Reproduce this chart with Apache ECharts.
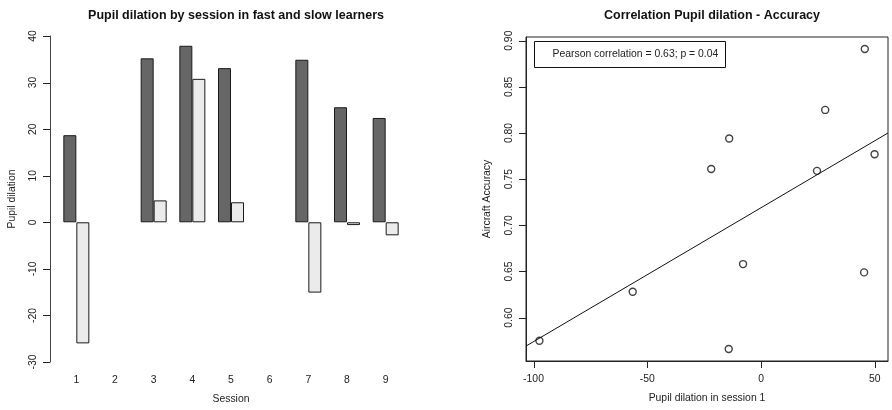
<!DOCTYPE html>
<html>
<head>
<meta charset="utf-8">
<script src="https://cdn.jsdelivr.net/npm/echarts@6/dist/echarts.min.js"></script>
<style>
html,body{margin:0;padding:0;background:#fff;}
#c{width:892px;height:410px;}
</style>
</head>
<body>
<div id="c"></div>
<script>
// ---- Data: left chart (bar) ----
const sessions = ['1', '2', '3', '4', '5', '6', '7', '8', '9'];
const fastLearners = [18.7, null, 35.2, 37.9, 33.1, null, 34.9, 24.7, 22.4];
const slowLearners = [-26.0, null, 4.7, 30.8, 4.3, null, -15.1, -0.6, -2.8];
const barYTicks = [-30, -20, -10, 0, 10, 20, 30, 40];

// ---- Data: right chart (scatter) ----
const dilationSession1 = [-97.4, -56.4, -21.9, -14.0, -14.2, -7.9, 24.6, 28.2, 45.6, 45.3, 49.9];
const aircraftAccuracy = [0.575, 0.628, 0.761, 0.794, 0.566, 0.658, 0.759, 0.825, 0.891, 0.649, 0.777];
const scatterXTicks = [-100, -50, 0, 50];
const scatterYTicks = [0.60, 0.65, 0.70, 0.75, 0.80, 0.85, 0.90];
const scatterXRange = [-103.3, 55.8];
const scatterYRange = [0.553, 0.904];
const legendText = 'Pearson correlation = 0.63; p = 0.04';
const legendAnchor = [-100, 0.90];

// least-squares fit line (as abline(lm(...)))
function fit(xs, ys) {
  const n = xs.length;
  const mx = xs.reduce((a, b) => a + b, 0) / n;
  const my = ys.reduce((a, b) => a + b, 0) / n;
  let sxy = 0, sxx = 0;
  for (let i = 0; i < n; i++) { sxy += (xs[i] - mx) * (ys[i] - my); sxx += (xs[i] - mx) ** 2; }
  const b = sxy / sxx;
  return { a: my - b * mx, b: b };
}
const f = fit(dilationSession1, aircraftAccuracy);
const fitLine = scatterXRange.map(x => [x, f.a + f.b * x]);
const scatterPoints = dilationSession1.map((x, i) => [x, aircraftAccuracy[i]]);

const FONT = 'Liberation Sans';
const TXT = '#222';
const TICK = '#222';
const base = 10.4;
const TICK_LEN = 7;
const BAR_GRID_LEFT = 57, BAR_Y_OFFSET = 7;

const chart = echarts.init(document.getElementById('c'), null, { renderer: 'canvas' });
chart.setOption({
  animation: false,
  backgroundColor: '#fff',
  textStyle: { fontFamily: FONT },
  title: [
    { text: 'Pupil dilation by session in fast and slow learners', left: 231, top: 4, textAlign: 'center',
      textStyle: { fontFamily: FONT, fontSize: 12.5, fontWeight: 'bold', color: '#111' } },
    { text: 'Correlation Pupil dilation - Accuracy', left: 707, top: 4, textAlign: 'center',
      textStyle: { fontFamily: FONT, fontSize: 12.5, fontWeight: 'bold', color: '#111' } }
  ],
  grid: [
    { left: BAR_GRID_LEFT, top: 36, width: 348, height: 326 },
    { left: 526, top: 37, right: 4, bottom: 49,
      show: true, borderColor: '#222', borderWidth: 1, backgroundColor: 'transparent' }
  ],
  xAxis: [
    { type: 'category', gridIndex: 0, data: sessions,
      axisLine: { show: false, onZero: false }, axisTick: { show: false },
      axisLabel: { margin: 13, fontSize: base, color: TXT, fontFamily: FONT },
      name: 'Session', nameLocation: 'middle', nameGap: 32,
      nameTextStyle: { fontSize: base, color: TXT, fontFamily: FONT },
      splitLine: { show: false } },
    { type: 'value', gridIndex: 1, min: scatterXRange[0], max: scatterXRange[1],
      axisLine: { show: true, onZero: false, lineStyle: { color: '#222', width: 1 } },
      axisTick: { show: false },
      axisLabel: { margin: 13, fontSize: base, color: TXT, fontFamily: FONT, customValues: scatterXTicks },
      splitLine: { show: false },
      name: 'Pupil dilation in session 1', nameLocation: 'middle', nameGap: 32,
      nameTextStyle: { fontSize: base, color: TXT, fontFamily: FONT } }
  ],
  yAxis: [
    { type: 'value', gridIndex: 0, min: barYTicks[0], max: barYTicks[barYTicks.length - 1], interval: 10,
      offset: BAR_Y_OFFSET,
      axisLine: { show: true, onZero: false, lineStyle: { color: '#444', width: 1 } },
      axisTick: { show: false },
      axisLabel: { rotate: 90, margin: 12, fontSize: base, color: TXT, fontFamily: FONT },
      splitLine: { show: false },
      name: 'Pupil dilation', nameLocation: 'middle', nameGap: 33,
      nameTextStyle: { fontSize: base, color: TXT, fontFamily: FONT } },
    { type: 'value', gridIndex: 1, min: scatterYRange[0], max: scatterYRange[1],
      axisLine: { show: true, onZero: false, lineStyle: { color: '#222', width: 1 } },
      axisTick: { show: false },
      axisLabel: { rotate: 90, margin: 12, fontSize: base, color: TXT, fontFamily: FONT,
        customValues: scatterYTicks, formatter: v => v.toFixed(2) },
      splitLine: { show: false },
      name: 'Aircraft Accuracy', nameLocation: 'middle', nameGap: 34,
      nameTextStyle: { fontSize: base, color: TXT, fontFamily: FONT } }
  ],
  series: [
    { type: 'bar', name: 'Fast learners', xAxisIndex: 0, yAxisIndex: 0, data: fastLearners,
      barWidth: 13, barGap: '0%',
      itemStyle: { color: '#666666', borderColor: '#1a1a1a', borderWidth: 1 } },
    { type: 'bar', name: 'Slow learners', xAxisIndex: 0, yAxisIndex: 0, data: slowLearners,
      barWidth: 13, barGap: '0%',
      itemStyle: { color: '#ebebeb', borderColor: '#1a1a1a', borderWidth: 1 } },
    { type: 'line', xAxisIndex: 1, yAxisIndex: 1, data: fitLine, symbol: 'none', clip: true,
      lineStyle: { color: '#111', width: 1 } },
    { type: 'scatter', xAxisIndex: 1, yAxisIndex: 1, data: scatterPoints, symbol: 'circle', symbolSize: 7,
      itemStyle: { color: 'rgba(0,0,0,0)', borderColor: '#111', borderWidth: 1.4 } }
  ]
});

// Tick marks placed through the axes' own scales
const crisp = v => Math.round(v) + 0.5;
const graphics = [];
const barAxisX = BAR_GRID_LEFT - BAR_Y_OFFSET;
barYTicks.forEach(v => {
  const y = crisp(chart.convertToPixel({ yAxisIndex: 0 }, v));
  graphics.push({ type: 'line', shape: { x1: barAxisX - TICK_LEN, y1: y, x2: barAxisX, y2: y },
    style: { stroke: TICK, lineWidth: 1 }, z: 5 });
});
const sLeft = Math.round(chart.convertToPixel({ xAxisIndex: 1 }, scatterXRange[0]));
const sBottom = Math.round(chart.convertToPixel({ yAxisIndex: 1 }, scatterYRange[0]));
scatterXTicks.forEach(v => {
  const x = crisp(chart.convertToPixel({ xAxisIndex: 1 }, v));
  graphics.push({ type: 'line', shape: { x1: x, y1: sBottom, x2: x, y2: sBottom + TICK_LEN },
    style: { stroke: TICK, lineWidth: 1 }, z: 5 });
});
scatterYTicks.forEach(v => {
  const y = crisp(chart.convertToPixel({ yAxisIndex: 1 }, v));
  graphics.push({ type: 'line', shape: { x1: sLeft - TICK_LEN, y1: y, x2: sLeft, y2: y },
    style: { stroke: TICK, lineWidth: 1 }, z: 5 });
});

const p = chart.convertToPixel({ gridIndex: 1 }, legendAnchor);
graphics.push(
  { type: 'rect', shape: { x: Math.round(p[0]) + 0.5, y: Math.round(p[1]) + 0.5, width: 191, height: 26 },
    style: { fill: '#fff', stroke: '#111', lineWidth: 1 }, z: 10 },
  { type: 'text', x: p[0] + 19, y: p[1] + 13.5,
    style: { text: legendText, font: base + 'px ' + FONT, fill: TXT, textVerticalAlign: 'middle', textAlign: 'left' }, z: 11 }
);
chart.setOption({ graphic: graphics });
</script>
</body>
</html>
